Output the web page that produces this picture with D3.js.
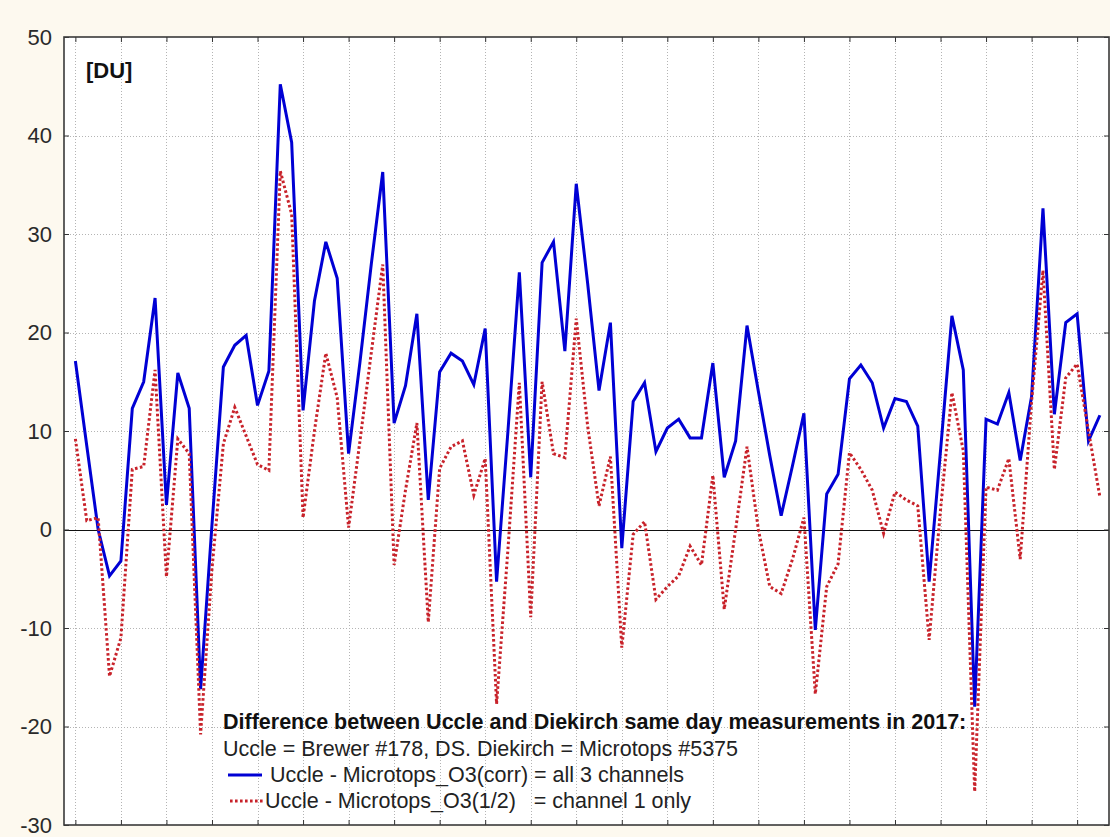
<!DOCTYPE html>
<html>
<head>
<meta charset="utf-8">
<script src="https://cdn.jsdelivr.net/npm/d3@7"></script>
<style>
  html, body { margin: 0; padding: 0; background: #fdf9ef; }
  svg { display: block; }
  text { font-family: "Liberation Sans", Arial, sans-serif; }
</style>
</head>
<body>
<svg id="chart" width="1110" height="837"></svg>
<script>
// Same-day ozone differences, Uccle vs Diekirch, 2017 (DU), one value per matched day
const dayIndex = d3.range(91);

const diffAllChannels = [
  17.1, 8.5, 0, -4.7, -3.2, 12.3, 15.0, 23.5, 2.5, 15.9,
  12.3, -16.2, 0.5, 16.5, 18.7, 19.7, 12.6, 16.1, 45.2, 39.3,
  12.1, 23.2, 29.2, 25.5, 7.7, 17, 27, 36.3, 10.8, 14.6,
  21.9, 3.0, 16.0, 17.9, 17.1, 14.7, 20.4, -5.3, 10, 26.1,
  5.3, 27.1, 29.2, 18.1, 35.1, 25, 14.1, 21.0, -1.9, 13.0,
  14.9, 7.9, 10.3, 11.2, 9.3, 9.3, 16.9, 5.3, 9.0, 20.7,
  14, 7.5, 1.4, 6.5, 11.8, -10.2, 3.6, 5.6, 15.3, 16.7,
  14.9, 10.3, 13.3, 13.0, 10.5, -5.3, 8, 21.7, 16.2, -18,
  11.2, 10.7, 13.9, 7.0, 13.5, 32.6, 11.7, 21.0, 21.9, 9.0,
  11.6
];

const diffChannel1 = [
  9.2, 0.9, 1.2, -14.9, -11, 6.1, 6.4, 16.2, -4.8, 9.2,
  7.7, -20.8, -4, 8.7, 12.4, 9.5, 6.6, 6.0, 36.4, 32,
  1.2, 10, 17.9, 13.4, 0.2, 9, 18, 26.9, -3.6, 4,
  10.8, -9.4, 6.2, 8.4, 9.0, 3.5, 7.2, -17.7, -2, 14.9,
  -8.9, 15, 7.7, 7.3, 21.4, 10.5, 2.4, 7.4, -12.0, -0.5,
  0.8, -7.1, -5.8, -4.7, -1.7, -3.6, 5.5, -8.1, 0, 8.4,
  0, -5.8, -6.5, -3, 1.2, -16.7, -5.8, -3.5, 7.8, 6.1,
  4.0, -0.4, 3.8, 3.0, 2.4, -11.2, 2, 13.9, 8, -26.6,
  4.3, 4.0, 7.2, -3.0, 13, 26.3, 6.1, 15.4, 16.8, 10,
  3.3
];

const yTickValues = [50, 40, 30, 20, 10, 0, -10, -20, -30];
const xTickValues = d3.range(0, 89, 4);

const legendTitle = "Difference between Uccle and Diekirch same day measurements in 2017:";
const legendSubtitle = "Uccle = Brewer #178, DS. Diekirch = Microtops #5375";
const seriesNames = [
  "Uccle - Microtops_O3(corr) = all 3 channels",
  "Uccle - Microtops_O3(1/2)\u00a0\u00a0 = channel 1 only"
];

const plotLeft = 64, plotRight = 1109, plotTop = 37, plotBottom = 825;

const svg = d3.select("#chart");

const x = d3.scaleLinear().domain([-1, 90.8]).range([plotLeft, plotRight]);
const y = d3.scaleLinear().domain([-30, 50]).range([plotBottom, plotTop]);

// plot area
svg.append("rect")
  .attr("x", plotLeft).attr("y", plotTop)
  .attr("width", plotRight - plotLeft).attr("height", plotBottom - plotTop)
  .attr("fill", "#ffffff");

// dotted grid
const grid = svg.append("g").attr("stroke", "#b4b4b4").attr("stroke-width", 1)
  .attr("stroke-dasharray", "1,2");
grid.selectAll("line.v").data(xTickValues).join("line").attr("class", "v")
  .attr("x1", d => Math.round(x(d)) + 0.5).attr("x2", d => Math.round(x(d)) + 0.5)
  .attr("y1", plotTop).attr("y2", plotBottom);
grid.selectAll("line.h").data(yTickValues.filter(v => v !== 0 && v !== 50 && v !== -30)).join("line").attr("class", "h")
  .attr("x1", plotLeft).attr("x2", plotRight)
  .attr("y1", d => Math.round(y(d)) + 0.5).attr("y2", d => Math.round(y(d)) + 0.5);

// zero reference line
svg.append("line")
  .attr("x1", plotLeft).attr("x2", plotRight)
  .attr("y1", Math.round(y(0)) + 0.5).attr("y2", Math.round(y(0)) + 0.5)
  .attr("stroke", "#111").attr("stroke-width", 1);

// axes with inward ticks
const yAxisL = d3.axisLeft(y).tickValues(yTickValues).tickSize(-5).tickPadding(12)
  .tickFormat(d => String(d));
const gL = svg.append("g").attr("transform", `translate(${plotLeft},0)`).call(yAxisL);
gL.select(".domain").remove();
gL.selectAll(".tick line").attr("stroke", "#333");
gL.selectAll(".tick text")
  .attr("font-size", 22).attr("fill", "#2a2a2a")
  .attr("font-family", "'Liberation Sans', Arial, sans-serif");

const yAxisR = d3.axisRight(y).tickValues(yTickValues).tickSize(-5).tickFormat("");
const gR = svg.append("g").attr("transform", `translate(${plotRight},0)`).call(yAxisR);
gR.select(".domain").remove();
gR.selectAll(".tick line").attr("stroke", "#333");

const xAxisT = d3.axisTop(x).tickValues(xTickValues).tickSize(-5).tickFormat("");
const gT = svg.append("g").attr("transform", `translate(0,${plotTop})`).call(xAxisT);
gT.select(".domain").remove();
gT.selectAll(".tick line").attr("stroke", "#333");

const xAxisB = d3.axisBottom(x).tickValues(xTickValues).tickSize(-5).tickFormat("");
const gB = svg.append("g").attr("transform", `translate(0,${plotBottom})`).call(xAxisB);
gB.select(".domain").remove();
gB.selectAll(".tick line").attr("stroke", "#333");

// frame
svg.append("rect")
  .attr("x", plotLeft).attr("y", plotTop)
  .attr("width", plotRight - plotLeft).attr("height", plotBottom - plotTop)
  .attr("fill", "none").attr("stroke", "#3a3a3a").attr("stroke-width", 1.6);

// series lines
const line = d3.line().x((d, i) => x(dayIndex[i])).y(d => y(d));

svg.append("path")
  .datum(diffAllChannels)
  .attr("d", line)
  .attr("fill", "none")
  .attr("stroke", "#0000d4")
  .attr("stroke-width", 3)
  .attr("stroke-linejoin", "miter");

svg.append("path")
  .datum(diffChannel1)
  .attr("d", line)
  .attr("fill", "none")
  .attr("stroke", "#c8222a")
  .attr("stroke-width", 3)
  .attr("stroke-dasharray", "2.6,2.4");

// unit label
svg.append("text")
  .attr("x", 86).attr("y", 78)
  .attr("font-size", 22).attr("font-weight", "bold").attr("fill", "#111")
  .text("[DU]");

// legend
const legendFont = 21.5;
const lg = svg.append("g");
lg.append("text")
  .attr("x", 223).attr("y", 729)
  .attr("font-size", legendFont).attr("font-weight", "bold").attr("fill", "#111")
  .text(legendTitle);
lg.append("text")
  .attr("x", 223).attr("y", 756)
  .attr("font-size", legendFont).attr("fill", "#222")
  .text(legendSubtitle);

lg.append("line")
  .attr("x1", 228).attr("x2", 262).attr("y1", 775).attr("y2", 775)
  .attr("stroke", "#0000d4").attr("stroke-width", 3);
lg.append("text")
  .attr("x", 270).attr("y", 782)
  .attr("font-size", legendFont).attr("fill", "#222")
  .text(seriesNames[0]);

lg.append("line")
  .attr("x1", 230).attr("x2", 264).attr("y1", 801).attr("y2", 801)
  .attr("stroke", "#c8222a").attr("stroke-width", 3)
  .attr("stroke-dasharray", "2.6,2.4");
lg.append("text")
  .attr("x", 265).attr("y", 808)
  .attr("font-size", legendFont).attr("fill", "#222")
  .text(seriesNames[1]);
</script>
</body>
</html>
